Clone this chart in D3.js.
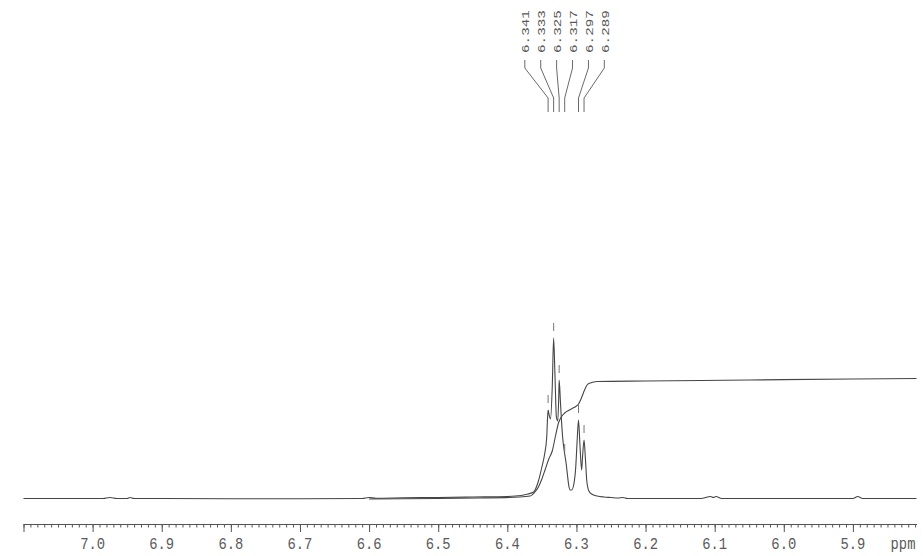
<!DOCTYPE html>
<html>
<head>
<meta charset="utf-8">
<script src="https://cdn.jsdelivr.net/npm/d3@7"></script>
<style>
  html, body { margin: 0; padding: 0; background: #fff; }
  svg { display: block; }
</style>
</head>
<body>
<div id="chart"></div>
<script>
// ---- data ----
// spectrum trace: chemical shift (ppm) and intensity (arbitrary units, baseline = 0)
const specPpm = [7.100, 7.050, 6.985, 6.975, 6.965, 6.950, 6.946, 6.940, 6.900, 6.800, 6.700, 6.610, 6.600, 6.590,
  6.550, 6.500, 6.450, 6.400, 6.380, 6.370, 6.362, 6.355, 6.350, 6.346, 6.343, 6.342, 6.341, 6.3395, 6.3375,
  6.335, 6.333, 6.331, 6.329, 6.327, 6.3255, 6.325, 6.323, 6.320, 6.317, 6.315, 6.313, 6.311, 6.309, 6.307,
  6.304, 6.301, 6.299, 6.297, 6.295, 6.2925, 6.291, 6.289, 6.287, 6.285, 6.282, 6.278, 6.270, 6.260, 6.250,
  6.240, 6.233, 6.226, 6.120, 6.106, 6.102, 6.098, 6.090, 5.900, 5.893, 5.886, 5.808];
const specInt = [0.5, 0.5, 0.5, 1.5, 0.5, 0.5, 1.5, 0.5, 0.5, 0.3, 0.3, 0.5, 1.5, 0.8,
  1.2, 1.5, 2, 2.5, 3.5, 5, 7, 18, 32, 45, 62, 78, 89, 84, 80,
  112, 161, 122, 82, 78, 105, 119, 95, 62, 45, 36, 24, 13, 9, 9,
  14, 32, 58, 79, 55, 29, 44, 59, 40, 18, 8, 5, 3, 2, 1.5,
  1, 1.5, 0.5, 0.5, 2.5, 1.5, 2.5, 0.5, 0.5, 2.5, 0.5, 0.5];

// integral trace (same vertical units)
const integPpm = [6.600, 6.500, 6.440, 6.382, 6.367, 6.360, 6.355, 6.350, 6.345, 6.340, 6.335, 6.330, 6.326,
  6.322, 6.317, 6.310, 6.305, 6.300, 6.297, 6.294, 6.290, 6.287, 6.284, 6.280, 6.270, 6.200, 6.050, 5.900, 5.808];
const integVal = [0, 0.5, 1, 2, 3, 7, 12, 20, 30, 40, 48, 64, 76,
  82, 86, 89, 91, 93, 95, 99, 106, 111, 114.5, 116, 117.5, 118, 119, 120, 120.5];

// picked peaks
const peakPpm = [6.341, 6.333, 6.325, 6.317, 6.297, 6.289];
const peakInt = [89, 161, 119, 40, 79, 59];
const peakLabels = ["6.341", "6.333", "6.325", "6.317", "6.297", "6.289"];

// axis ticks
const majorTicks = [7.1, 7.0, 6.9, 6.8, 6.7, 6.6, 6.5, 6.4, 6.3, 6.2, 6.1, 6.0, 5.9];
const majorTickLabels = ["", "7.0", "6.9", "6.8", "6.7", "6.6", "6.5", "6.4", "6.3", "6.2", "6.1", "6.0", "5.9"];
const unitLabel = "ppm";

// ---- drawing ----
const W = 923, H = 556;
const svg = d3.select("#chart").append("svg").attr("width", W).attr("height", H);

const x = d3.scaleLinear().domain([7.1, 5.808]).range([23.5, 916.5]);
const y = d3.scaleLinear().domain([0, 161]).range([499, 338]);
const axisY = 524;
const lineColor = "#454545";
const textColor = "#5a5a5a";
const monoFont = "'Liberation Mono', 'Courier New', monospace";

// spectrum
const specData = specPpm.map((p, i) => [p, specInt[i]]);
svg.append("path")
  .datum(specData)
  .attr("fill", "none")
  .attr("stroke", lineColor)
  .attr("stroke-width", 1.1)
  .attr("d", d3.line().x(d => x(d[0])).y(d => y(d[1])).curve(d3.curveMonotoneX));

// integral
const integData = integPpm.map((p, i) => [p, integVal[i]]);
svg.append("path")
  .datum(integData)
  .attr("fill", "none")
  .attr("stroke", lineColor)
  .attr("stroke-width", 1.1)
  .attr("d", d3.line().x(d => x(d[0])).y(d => y(d[1])).curve(d3.curveMonotoneX));

// peak pick markers
svg.append("g").selectAll("line")
  .data(peakPpm)
  .join("line")
  .attr("x1", d => x(d)).attr("x2", d => x(d))
  .attr("y1", (d, i) => y(peakInt[i]) - 15)
  .attr("y2", (d, i) => y(peakInt[i]) - 7)
  .attr("stroke", "#777")
  .attr("stroke-width", 1);

// peak labels at top with leader lines
const px = peakPpm.map(p => x(p));
const labelCenter = (d3.min(px) + d3.max(px)) / 2 - 1.5;
const labelStep = 15.9;
const labelX = i => labelCenter + (i - (peakPpm.length - 1) / 2) * labelStep;

const labG = svg.append("g");
labG.selectAll("path")
  .data(peakPpm)
  .join("path")
  .attr("fill", "none")
  .attr("stroke", "#6a6a6a")
  .attr("stroke-width", 1)
  .attr("d", (d, i) => `M${labelX(i)},60 V68 L${x(d)},98 V112`);

labG.selectAll("g.lab")
  .data(peakLabels)
  .join("g")
  .attr("class", "lab")
  .attr("transform", (d, i) => `translate(${labelX(i)},53) scale(1,1.22) rotate(-90)`)
  .append("text")
  .attr("x", 0).attr("y", 0)
  .attr("dy", "0.36em")
  .attr("text-anchor", "start")
  .attr("font-family", monoFont)
  .attr("font-size", "11.7px")
  .attr("fill", textColor)
  .text(d => d);

// axis
const minorTicks = d3.range(0, 130).map(i => +(7.1 - i * 0.01).toFixed(2)).filter(v => v >= 5.808);
const minorAxis = d3.axisBottom(x).tickValues(minorTicks).tickSize(3.5).tickSizeOuter(0).tickFormat("");
const majorAxis = d3.axisBottom(x).tickValues(majorTicks).tickSize(8).tickSizeOuter(0).tickFormat("");

const gMinor = svg.append("g").attr("transform", `translate(0,${axisY})`).call(minorAxis);
const gMajor = svg.append("g").attr("transform", `translate(0,${axisY})`).call(majorAxis);
gMajor.select(".domain").remove();
[gMinor, gMajor].forEach(g => {
  g.selectAll("path, line").attr("stroke", "#555").attr("stroke-width", 1);
});

// tick labels (slightly tall monospace text as in the reference)
svg.append("g").selectAll("g")
  .data(majorTicks.map((t, i) => [t, majorTickLabels[i]]).filter(d => d[1] !== ""))
  .join("g")
  .attr("transform", d => `translate(${x(d[0])},543) scale(1,1.2)`)
  .append("text")
  .attr("text-anchor", "middle")
  .attr("dy", "0.36em")
  .attr("font-family", monoFont)
  .attr("font-size", "13.8px")
  .attr("fill", textColor)
  .text(d => d[1]);

svg.append("g")
  .attr("transform", `translate(903,543) scale(1,1.2)`)
  .append("text")
  .attr("text-anchor", "middle")
  .attr("dy", "0.36em")
  .attr("font-family", monoFont)
  .attr("font-size", "13.8px")
  .attr("fill", textColor)
  .text(unitLabel);
</script>
</body>
</html>
